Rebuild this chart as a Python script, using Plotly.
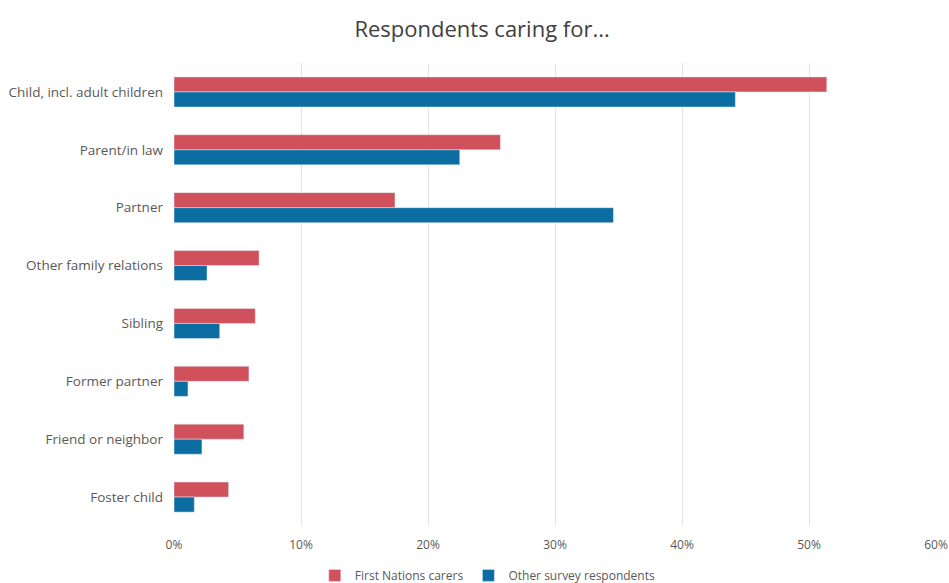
import plotly.graph_objects as go

categories = ["Child, incl. adult children", "Parent/in law", "Partner", "Other family relations",
              "Sibling", "Former partner", "Friend or neighbor", "Foster child"]
first_nations = [0.514, 0.257, 0.174, 0.067, 0.064, 0.059, 0.055, 0.043]
other_resp = [0.442, 0.225, 0.346, 0.026, 0.036, 0.011, 0.022, 0.016]
tick_vals = [0, 0.1, 0.2, 0.3, 0.4, 0.5, 0.6]
tick_text = ["0%", "10%", "20%", "30%", "40%", "50%", "60%"]

font_family = "'Open Sans', Lato, sans-serif"

fig = go.Figure()
fig.add_trace(go.Bar(y=categories, x=first_nations, orientation="h", name="First Nations carers",
                     marker=dict(color="#D0505C")))
fig.add_trace(go.Bar(y=categories, x=other_resp, orientation="h", name="Other survey respondents",
                     marker=dict(color="#0B6DA2")))

fig.update_layout(
    width=949, height=583,
    paper_bgcolor="white", plot_bgcolor="white",
    barmode="group", bargap=0.48, bargroupgap=0,
    margin=dict(l=174, r=13, t=63, b=57, autoexpand=False),
    title=dict(text="Respondents caring for...", x=0.508, xanchor="center", y=0.949, yanchor="middle",
               font=dict(family=font_family, size=22, color="#404040")),
    font=dict(family=font_family, color="#595959", size=12),
    legend=dict(orientation="h", x=0.514, xanchor="center", xref="container",
                y=0.013, yanchor="middle", yref="container",
                font=dict(size=12, color="#595959"), traceorder="normal"),
    xaxis=dict(range=[0, 0.6], tickvals=tick_vals, ticktext=tick_text, showgrid=True,
               gridcolor="#E4E4E4", gridwidth=1, zeroline=False, showline=False,
               tickfont=dict(size=12, color="#595959"), ticks="", ticklabelstandoff=10,
               automargin=False),
    yaxis=dict(autorange="reversed", showgrid=False, zeroline=False, showline=False,
               ticks="", ticklabelstandoff=10, tickfont=dict(size=13.5, color="#595959"),
               automargin=False),
)

fig.write_html("out.html", config={"displayModeBar": False},
               post_script="document.body.style.margin='0';document.body.style.overflow='hidden';")
